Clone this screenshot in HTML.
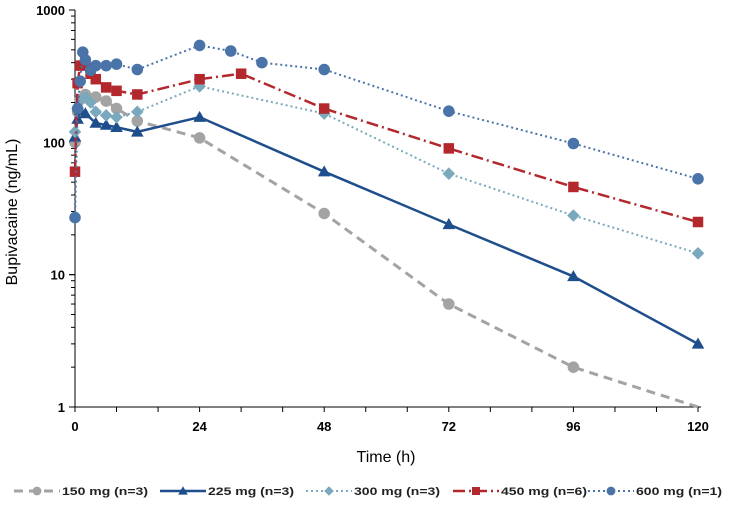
<!DOCTYPE html>
<html><head><meta charset="utf-8"><style>
body{margin:0;background:#fff;}
svg{display:block;font-family:"Liberation Sans",Arial,sans-serif;}
</style></head><body>
<svg id="chart" width="735" height="505" viewBox="0 0 735 505"></svg>
<script>
const xTicks=[0,24,48,72,96,120];
const yTicks=[1,10,100,1000];
const t150=[0,0.5,1,2,4,6,8,12,24,48,72,96,120];
const v150=[100,170,210,230,220,205,180,145,108,29,6,2,0.95];
const t225=[0,0.5,1,2,4,6,8,12,24,48,72,96,120];
const v225=[110,150,175,165,140,135,130,120,155,60,24,9.7,3.0];
const t300=[0,0.5,1,2,3,4,6,8,12,24,48,72,96,120];
const v300=[120,180,210,220,200,170,160,155,170,265,165,58,28,14.5];
const t450=[0,0.5,1,2,3,4,6,8,12,24,32,48,72,96,120];
const v450=[60,280,380,400,330,300,260,245,230,300,330,180,90,46,25];
const t600=[0,0.5,1,1.5,2,3,4,6,8,12,24,30,36,48,72,96,120];
const v600=[27,180,290,480,420,350,380,380,390,355,540,490,400,355,172,98,53];
const seriesNames=["150 mg (n=3)","225 mg (n=3)","300 mg (n=3)","450 mg (n=6)","600 mg (n=1)"];

const NS="http://www.w3.org/2000/svg";
const svg=document.getElementById('chart');
const X0=75,X1=698,Y1000=10,Y1=407;
const xs=t=>X0+(X1-X0)*t/120;
const ys=v=>Y1-(Y1-Y1000)*Math.log10(v)/3;
function mk(tag,attrs,parent){const e=document.createElementNS(NS,tag);for(const k in attrs)e.setAttribute(k,attrs[k]);(parent||svg).appendChild(e);return e;}

let a=mk('line',{x1:X0,y1:Y1000,x2:X0,y2:Y1,stroke:'#000','stroke-width':1});


a=mk('line',{x1:X0,y1:Y1,x2:X1+3,y2:Y1,stroke:'#000','stroke-width':1});


for(let d=0;d<3;d++)for(let m=1;m<=10;m++){const y=ys(m*Math.pow(10,d));const tk=mk('line',{x1:X0-(m==1||m==10?6:4),y1:y,x2:X0,y2:y,stroke:'#000','stroke-width':1});}
for(let t=0;t<=120;t+=8){const tk=mk('line',{x1:xs(t),y1:Y1,x2:xs(t),y2:Y1+5,stroke:'#000','stroke-width':1});}
yTicks.forEach(v=>{const tx=mk('text',{x:65,y:ys(v)+5,'text-anchor':'end','font-size':13,'font-weight':'bold'});tx.textContent=v;});
xTicks.forEach(v=>{const tx=mk('text',{x:xs(v),y:431,'text-anchor':'middle','font-size':13,'font-weight':'bold'});tx.textContent=v;});
let tt=mk('text',{x:386,y:462,'text-anchor':'middle','font-size':16});tt.textContent='Time (h)';


tt=mk('text',{x:0,y:0,'text-anchor':'middle','font-size':16,transform:'translate(17,212) rotate(-90)'});tt.textContent='Bupivacaine  (ng/mL)';



const styles=[
 {c:'#a3a3a3',w:3,dash:'9,6',m:'circle',ts:t150,vs:v150,n:'series-150mg'},
 {c:'#1f4e8c',w:2.5,dash:'',m:'tri',ts:t225,vs:v225,n:'series-225mg'},
 {c:'#7aa8bc',w:2,dash:'2,3',m:'diamond',ts:t300,vs:v300,n:'series-300mg'},
 {c:'#b3282d',w:2.5,dash:'12,4,2,4',m:'square',ts:t450,vs:v450,n:'series-450mg'},
 {c:'#4a74a8',w:2,dash:'2,3',m:'circle',ts:t600,vs:v600,n:'series-600mg'}
];
function marker(g,type,x,y,c,s){
 let e;
 if(type=='circle')e=mk('circle',{cx:x,cy:y,r:s*0.55,fill:c},g);
 else if(type=='square')e=mk('rect',{x:x-s/2,y:y-s/2,width:s,height:s,fill:c},g);
 else if(type=='diamond')e=mk('polygon',{points:`${x},${y-s*0.6} ${x+s*0.6},${y} ${x},${y+s*0.6} ${x-s*0.6},${y}`,fill:c},g);
 else e=mk('polygon',{points:`${x},${y-s*0.6} ${x+s*0.6},${y+s*0.45} ${x-s*0.6},${y+s*0.45}`,fill:c},g);
 return e;
}
styles.forEach(s=>{
 const g=mk('g',{});
 
 
 const pts=s.ts.map((t,i)=>xs(t)+','+Math.min(ys(s.vs[i]),Y1)).join(' ');
 const pl=mk('polyline',{points:pts,fill:'none',stroke:s.c,'stroke-width':s.w,'stroke-dasharray':s.dash},g);
 
 
 s.ts.forEach((t,i)=>{const y=ys(s.vs[i]);if(y>Y1)return;const e=marker(g,s.m,xs(t),y,s.c,10.5);
  
  });
});
const lx=[14,160,306,453,588];
styles.forEach((s,i)=>{
 const g=mk('g',{});
 
 
 mk('line',{x1:lx[i],y1:491,x2:lx[i]+46,y2:491,stroke:s.c,'stroke-width':s.w,'stroke-dasharray':s.dash},g);
 marker(g,s.m,lx[i]+23,491,s.c,8);
 const tx=mk('text',{x:lx[i]+48,y:495,'font-size':11,'font-weight':'bold',fill:'#222',textLength:86,lengthAdjust:'spacingAndGlyphs'},g);
 tx.textContent=seriesNames[i];
});
</script>
</body></html>
